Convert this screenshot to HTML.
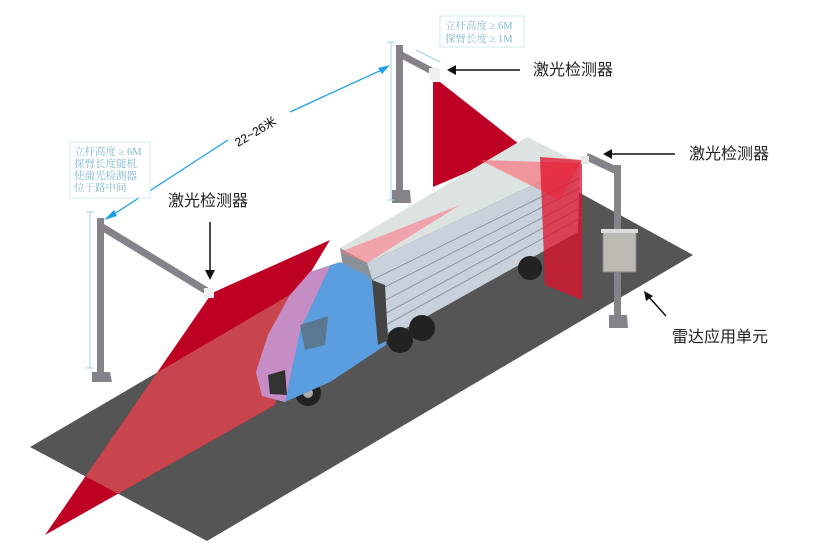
<!DOCTYPE html>
<html><head><meta charset="utf-8"><style>
html,body{margin:0;padding:0;background:#fff;width:818px;height:559px;overflow:hidden}
svg{display:block}
</style></head><body>
<svg width="818" height="559" viewBox="0 0 818 559" xmlns="http://www.w3.org/2000/svg" font-family="Liberation Sans, Noto Sans CJK SC, sans-serif">
<defs>
<clipPath id="fan"><polygon points="212,293 330,240 300,290 275,405 45,535"/></clipPath>
</defs>
<!-- road -->
<polygon points="30,447 207,541 693,255 520,160" fill="#555"/>
<!-- back laser -->
<polygon points="433,82 440,82 524,148 433,187" fill="#be0025"/>
<!-- left laser fan -->
<polygon points="212,293 330,240 300,290 275,405 45,535" fill="#be0025"/>
<polygon points="30,447 207,541 693,255 520,160" fill="#c8454e" clip-path="url(#fan)"/>
<!-- trailer -->
<polygon points="340,248 527,137 580,163 367,263" fill="#dde3e0"/>
<polygon points="367,263 580,163 578,232 390,337" fill="#c9d2dc"/>
<g stroke="#8d96a3" stroke-width="1">
<line x1="372" y1="280" x2="580" y2="178"/><line x1="375" y1="292" x2="580" y2="188"/><line x1="378" y1="304" x2="580" y2="198"/><line x1="381" y1="316" x2="580" y2="208"/><line x1="384" y1="326" x2="580" y2="218"/>
</g>
<polygon points="340,248 367,263 390,337 350,310" fill="#8a9097"/>
<polygon points="480,160 580,163 560,200" fill="#ff6070" opacity="0.6"/>
<polygon points="340,252 460,205 367,263" fill="#ff7080" opacity="0.55"/>
<!-- wheels -->
<circle cx="530" cy="268" r="12" fill="#222"/>
<circle cx="400" cy="340" r="13" fill="#222"/><circle cx="422" cy="328" r="13" fill="#222"/>
<circle cx="308" cy="393" r="13" fill="#222"/><circle cx="308" cy="393" r="5" fill="#aaa"/>
<!-- cab -->
<polygon points="256,372 268,335 290,295 310,272 340,262 368,276 380,296 386,345 330,382 285,402 262,396" fill="#5b9ee0"/>
<polygon points="256,372 268,335 290,295 310,272 330,266 300,330 285,402 262,396" fill="#d98ac0" opacity="0.85"/>
<polygon points="300,325 328,316 325,345 305,350" fill="#5a7890"/>
<polygon points="268,375 285,370 287,395 270,394" fill="#333"/>
<polygon points="372,280 385,285 388,340 378,345" fill="#444"/>
<!-- right laser plane -->
<polygon points="540,157 582,160 582,300 545,285" fill="#e0102a" opacity="0.75"/>
<!-- poles -->
<g fill="#858389">
<rect x="97" y="218" width="7" height="157"/><polygon points="92,372 110,372 112,382 92,382"/>
<polygon points="100,230 104,224 212,290 208,296"/>
<rect x="396" y="45" width="7" height="150"/><polygon points="392,190 410,190 411,203 392,203"/>
<polygon points="400,58 403,52 437,70 434,76"/>
<rect x="614" y="165" width="7" height="155"/><polygon points="609,315 627,315 628,328 609,328"/>
<polygon points="617,175 620,168 588,153 585,160"/>
</g>
<rect x="204" y="288" width="10" height="10" fill="#f0eeee"/>
<rect x="429" y="68" width="11" height="12" fill="#f0eeee"/>
<rect x="581" y="156" width="8" height="8" fill="#e6e6e6"/>
<!-- radar box -->
<rect x="603" y="232" width="33" height="40" fill="#bdbab3" stroke="#888"/>
<rect x="601" y="229" width="37" height="4" fill="#ddd"/>
<!-- dimension lines -->
<g stroke="#9fd3ea" stroke-width="1">
<line x1="90" y1="212" x2="90" y2="368"/><line x1="86" y1="212" x2="94" y2="212"/><line x1="86" y1="368" x2="94" y2="368"/>
<line x1="391" y1="42" x2="391" y2="200"/><line x1="387" y1="42" x2="395" y2="42"/><line x1="387" y1="200" x2="395" y2="200"/>
<line x1="416" y1="50" x2="440" y2="62"/>
</g>
<!-- 22-26 arrow -->
<g stroke="#1ea0e6" stroke-width="1.3" fill="none">
<line x1="108" y1="218" x2="228" y2="140"/><line x1="290" y1="112" x2="386" y2="68"/>
</g>
<polygon points="104,220 114,210 117,216" fill="#1ea0e6"/>
<polygon points="390,65 378,68 382,74" fill="#1ea0e6"/>
<text x="0" y="0" font-size="12" transform="translate(238,147) rotate(-31)">22~26米</text>
<!-- note boxes -->
<rect x="70" y="142" width="80" height="56" fill="#fff" stroke="#cfe8f2"/>
<g font-size="10.5" fill="#7fb8d0" font-family="Liberation Serif, Noto Serif CJK SC, serif">
<text x="74" y="155">立杆高度 ≥ 6M</text><text x="74" y="167">探臂长度随机</text><text x="74" y="179">使激光检测器</text><text x="74" y="191">位于路中间</text>
</g>
<rect x="440" y="16" width="84" height="31" fill="#fff" stroke="#cfe8f2"/>
<g font-size="10.5" fill="#7fb8d0" font-family="Liberation Serif, Noto Serif CJK SC, serif">
<text x="445" y="29">立杆高度 ≥ 6M</text><text x="445" y="42">探臂长度 ≥ 1M</text>
</g>
<!-- labels -->
<g font-size="16" fill="#222">
<text x="168" y="206">激光检测器</text>
<text x="533" y="75">激光检测器</text>
<text x="689" y="159">激光检测器</text>
<text x="672" y="342">雷达应用单元</text>
</g>
<!-- black arrows -->
<g stroke="#111" stroke-width="1.5">
<line x1="210" y1="222" x2="210" y2="272"/><line x1="520" y1="70" x2="455" y2="70"/>
<line x1="675" y1="154" x2="612" y2="154"/><line x1="666" y1="316" x2="648" y2="296"/>
</g>
<polygon points="205,270 215,270 210,280" fill="#111"/>
<polygon points="447,70 456,65 456,75" fill="#111"/>
<polygon points="603,154 612,149 612,159" fill="#111"/>
<polygon points="644,291 653,296 646,301" fill="#111"/>
</svg>
</body></html>
